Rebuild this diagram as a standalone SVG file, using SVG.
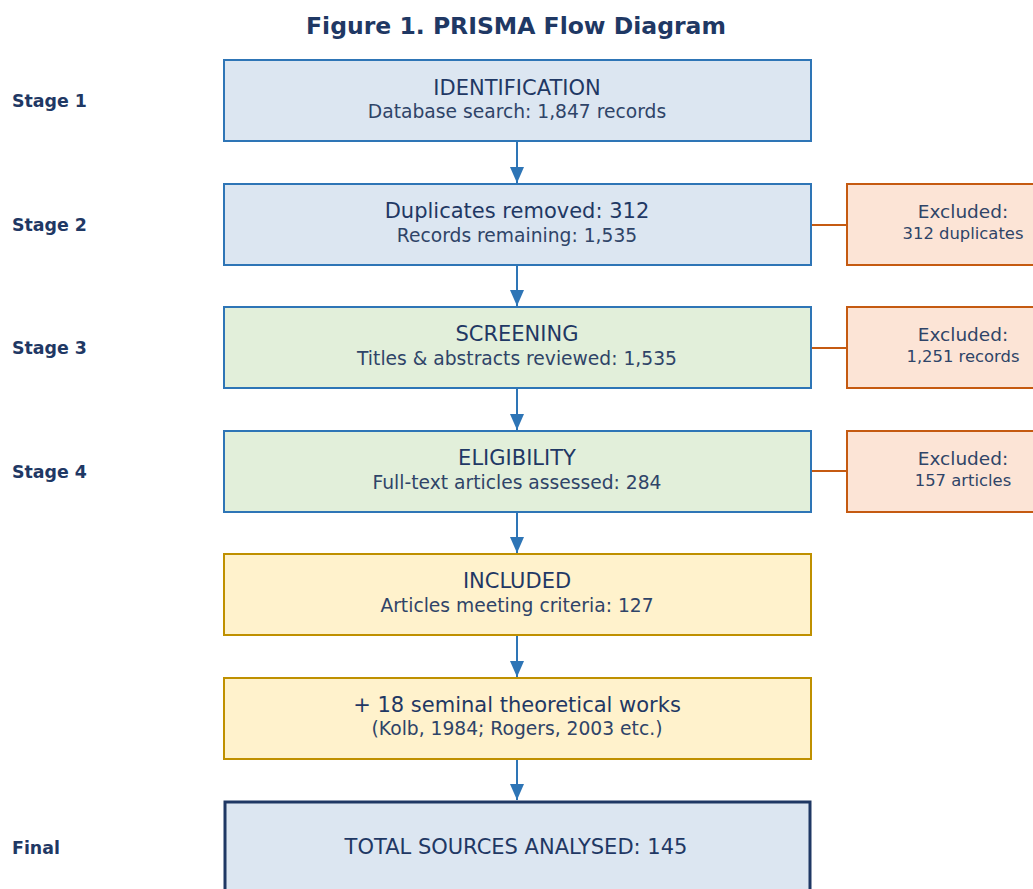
<svg xmlns="http://www.w3.org/2000/svg" width="1033" height="889" viewBox="0 0 1033 889">
<style>
.t{font-family:"DejaVu Sans",sans-serif;fill:#1f3864}
.title{font-size:23.5px;font-weight:bold;text-anchor:middle}
.stage{font-size:17.4px;font-weight:bold}
.h{font-size:21px;text-anchor:middle}
.s{font-size:18.7px;text-anchor:middle;fill:#2f4468}
.ex{font-size:18.5px;text-anchor:middle;fill:#2f4468}
.ex2{font-size:16.4px;text-anchor:middle;fill:#2f4468}
.blue{fill:#dce6f1;stroke:#2e75b6;stroke-width:2}
.green{fill:#e2efda;stroke:#2e75b6;stroke-width:2}
.yel{fill:#fff2cc;stroke:#bf9000;stroke-width:2}
.exb{fill:#fce4d6;stroke:#c55a11;stroke-width:2}
.fin{fill:#dce6f1;stroke:#1f3864;stroke-width:3}
.ar{stroke:#2e75b6;stroke-width:2;fill:none;marker-end:url(#ah)}
.el{stroke:#c55a11;stroke-width:2;fill:none}
</style>
<defs>
<marker id="ah" viewBox="0 0 16 14" refX="16" refY="7" markerWidth="16" markerHeight="14" markerUnits="userSpaceOnUse" orient="auto">
<path d="M0,0 L16,7 L0,14 z" fill="#2e75b6"/>
</marker>
</defs>
<rect width="1033" height="889" fill="#ffffff"/>
<text class="t title" x="516" y="34">Figure 1. PRISMA Flow Diagram</text>
<g id="stages">
<text class="t stage" x="12" y="107">Stage 1</text>
<text class="t stage" x="12" y="231">Stage 2</text>
<text class="t stage" x="12" y="354">Stage 3</text>
<text class="t stage" x="12" y="478">Stage 4</text>
<text class="t stage" x="12" y="854">Final</text>
</g>
<g id="connectors">
<path class="ar" d="M517,142 V183"/>
<path class="ar" d="M517,266 V306"/>
<path class="ar" d="M517,389 V430"/>
<path class="ar" d="M517,513 V553"/>
<path class="ar" d="M517,636 V677"/>
<path class="ar" d="M517,760 V800"/>
<path class="el" d="M811,225 H847"/>
<path class="el" d="M811,348 H847"/>
<path class="el" d="M811,471 H847"/>
</g>
<g id="n1"><rect class="blue" x="224" y="60" width="587" height="81"/>
<text class="t h" x="517" y="95">IDENTIFICATION</text>
<text class="t s" x="517" y="118">Database search: 1,847 records</text></g>
<g id="n2"><rect class="blue" x="224" y="184" width="587" height="81"/>
<text class="t h" x="517" y="218">Duplicates removed: 312</text>
<text class="t s" x="517" y="242">Records remaining: 1,535</text></g>
<g id="n3"><rect class="green" x="224" y="307" width="587" height="81"/>
<text class="t h" x="517" y="341">SCREENING</text>
<text class="t s" x="517" y="365">Titles &amp; abstracts reviewed: 1,535</text></g>
<g id="n4"><rect class="green" x="224" y="431" width="587" height="81"/>
<text class="t h" x="517" y="465">ELIGIBILITY</text>
<text class="t s" x="517" y="489">Full-text articles assessed: 284</text></g>
<g id="n5"><rect class="yel" x="224" y="554" width="587" height="81"/>
<text class="t h" x="517" y="588">INCLUDED</text>
<text class="t s" x="517" y="612">Articles meeting criteria: 127</text></g>
<g id="n6"><rect class="yel" x="224" y="678" width="587" height="81"/>
<text class="t h" x="517" y="712">+ 18 seminal theoretical works</text>
<text class="t s" x="517" y="735">(Kolb, 1984; Rogers, 2003 etc.)</text></g>
<g id="n7"><rect class="fin" x="225" y="802" width="585" height="100"/>
<text class="t h" x="516" y="854">TOTAL SOURCES ANALYSED: 145</text></g>
<g id="x1"><rect class="exb" x="847" y="184" width="200" height="81"/>
<text class="t ex" x="963" y="218">Excluded:</text>
<text class="t ex2" x="963" y="239">312 duplicates</text></g>
<g id="x2"><rect class="exb" x="847" y="307" width="200" height="81"/>
<text class="t ex" x="963" y="341">Excluded:</text>
<text class="t ex2" x="963" y="362">1,251 records</text></g>
<g id="x3"><rect class="exb" x="847" y="431" width="200" height="81"/>
<text class="t ex" x="963" y="465">Excluded:</text>
<text class="t ex2" x="963" y="486">157 articles</text></g>
</svg>
